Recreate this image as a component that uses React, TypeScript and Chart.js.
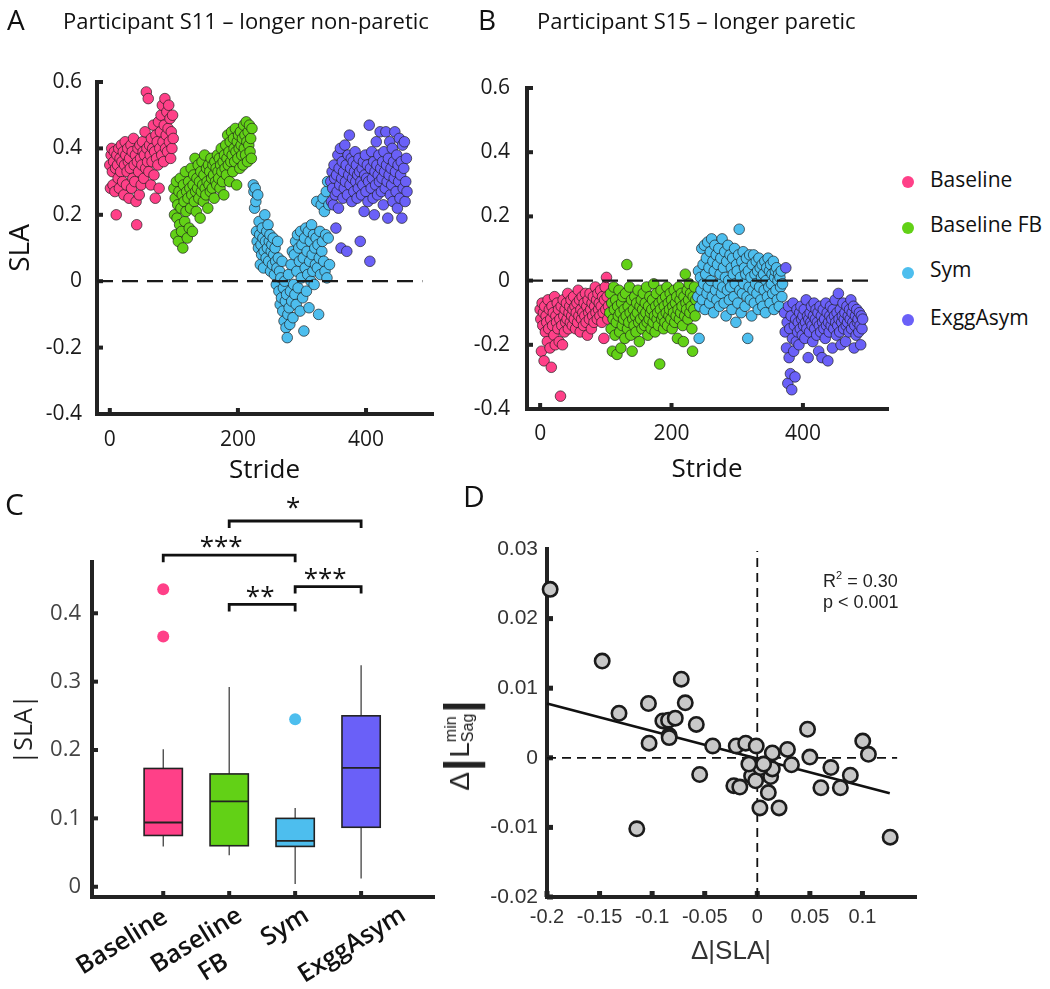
import React, { useEffect, useRef } from "react";
import { Chart, registerables } from "chart.js";

Chart.register(...registerables);

const FONT_UI = "'Open Sans', 'DejaVu Sans', sans-serif";
const FONT_ARIAL = "'Liberation Sans', Arial, sans-serif";

// ================= DATA =================
const phases = ["Baseline", "Baseline FB", "Sym", "ExggAsym"];
const phaseTickLabels = ["Baseline", "Baseline\nFB", "Sym", "ExggAsym"];
const phaseColors = ["#FF4088", "#62D116", "#4DBEEE", "#6A60F8"];

const strideTicks = [0, 200, 400];
const slaTicks = [-0.4, -0.2, 0, 0.2, 0.4, 0.6];

// Panel A: participant S11, SLA per stride (first stride of each phase + values)
const s11StartStride = [0, 100, 224, 345];
const s11Baseline = [
  0.35, 0.28, 0.38, 0.40, 0.33, 0.29, 0.36, 0.39, 0.27, 0.34,
  0.20, 0.38, 0.35, 0.31, 0.40, 0.28, 0.37, 0.33, 0.41, 0.36,
  0.30, 0.39, 0.26, 0.35, 0.42, 0.38, 0.29, 0.33, 0.40, 0.36,
  0.25, 0.37, 0.34, 0.41, 0.28, 0.39, 0.31, 0.43, 0.35, 0.30,
  0.38, 0.24, 0.17, 0.36, 0.40, 0.33, 0.26, 0.41, 0.37, 0.29,
  0.35, 0.42, 0.39, 0.31, 0.38, 0.45, 0.34, 0.57, 0.40, 0.36,
  0.55, 0.33, 0.41, 0.38, 0.29, 0.43, 0.36, 0.40, 0.47, 0.32,
  0.39, 0.25, 0.44, 0.37, 0.42, 0.35, 0.48, 0.28, 0.40, 0.45,
  0.50, 0.38, 0.53, 0.42, 0.36, 0.47, 0.55, 0.40, 0.44, 0.51,
  0.39, 0.46, 0.53, 0.42, 0.49, 0.37, 0.45, 0.40, 0.50, 0.43,
];
const s11BaselineFB = [
  0.28, 0.20, 0.25, 0.14, 0.30, 0.19, 0.23, 0.12, 0.27, 0.17,
  0.31, 0.22, 0.15, 0.26, 0.10, 0.29, 0.24, 0.18, 0.33, 0.21,
  0.27, 0.13, 0.25, 0.30, 0.16, 0.28, 0.22, 0.34, 0.26, 0.15,
  0.29, 0.32, 0.24, 0.37, 0.27, 0.21, 0.31, 0.28, 0.35, 0.25,
  0.30, 0.19, 0.33, 0.27, 0.36, 0.29, 0.24, 0.32, 0.38, 0.28,
  0.26, 0.34, 0.30, 0.22, 0.35, 0.29, 0.33, 0.27, 0.37, 0.31,
  0.28, 0.35, 0.32, 0.25, 0.36, 0.30, 0.34, 0.29, 0.38, 0.33,
  0.31, 0.37, 0.28, 0.35, 0.40, 0.33, 0.30, 0.36, 0.26, 0.38,
  0.34, 0.41, 0.32, 0.37, 0.44, 0.35, 0.39, 0.30, 0.42, 0.36,
  0.45, 0.38, 0.33, 0.43, 0.40, 0.36, 0.46, 0.39, 0.29, 0.42,
  0.37, 0.44, 0.40, 0.34, 0.45, 0.41, 0.38, 0.43, 0.35, 0.47,
  0.40, 0.44, 0.38, 0.48, 0.42, 0.36, 0.45, 0.41, 0.47, 0.39,
  0.43, 0.37, 0.46,
];
const s11Sym = [
  0.29, 0.27, 0.22, 0.28, 0.24, 0.15, 0.12, 0.26, 0.10, 0.18,
  0.14, 0.05, 0.11, 0.08, 0.16, 0.13, 0.04, 0.09, 0.20, 0.12,
  0.07, 0.15, 0.10, 0.17, 0.06, 0.12, 0.14, 0.03, 0.09, 0.11,
  0.05, 0.13, 0.08, 0.02, 0.10, 0.06, -0.01, 0.04, 0.12, 0.07,
  -0.03, 0.03, -0.07, 0.01, -0.05, 0.06, -0.09, -0.02, -0.12, 0.00,
  -0.06, -0.14, -0.04, -0.17, -0.10, 0.02, -0.08, -0.13, -0.03, 0.05,
  -0.06, 0.09, -0.11, -0.01, 0.08, -0.04, 0.12, -0.07, 0.03, 0.14,
  -0.02, 0.10, 0.06, -0.09, 0.15, 0.01, 0.11, -0.05, 0.07, -0.15,
  0.13, 0.04, 0.16, -0.03, 0.09, 0.02, 0.15, -0.08, 0.06, 0.12,
  0.00, 0.17, 0.08, 0.03, 0.14, -0.01, 0.10, 0.05, 0.13, 0.24,
  0.04, 0.11, -0.10, 0.07, 0.15, 0.02, 0.23, 0.09, 0.12, 0.25,
  0.06, 0.21, 0.03, 0.14, 0.27, 0.01, 0.30, 0.13, 0.23, 0.05,
];
const s11ExggAsym = [
  0.30, 0.24, 0.33, 0.28, 0.23, 0.35, 0.31, 0.26, 0.16, 0.32,
  0.27, 0.38, 0.22, 0.34, 0.29, 0.40, 0.10, 0.31, 0.36, 0.25,
  0.33, 0.28, 0.41, 0.30, 0.35, 0.09, 0.26, 0.38, 0.32, 0.44,
  0.29, 0.34, 0.37, 0.24, 0.31, 0.36, 0.27, 0.33, 0.39, 0.30,
  0.35, 0.25, 0.32, 0.28, 0.37, 0.33, 0.12, 0.30, 0.26, 0.34,
  0.29, 0.36, 0.21, 0.32, 0.38, 0.27, 0.31, 0.35, 0.24, 0.30,
  0.47, 0.06, 0.34, 0.28, 0.39, 0.31, 0.25, 0.36, 0.20, 0.33,
  0.29, 0.42, 0.35, 0.26, 0.32, 0.38, 0.30, 0.45, 0.34, 0.27,
  0.31, 0.36, 0.23, 0.39, 0.33, 0.28, 0.45, 0.35, 0.30, 0.19,
  0.37, 0.32, 0.42, 0.26, 0.34, 0.29, 0.40, 0.24, 0.36, 0.31,
  0.45, 0.33, 0.27, 0.38, 0.22, 0.35, 0.30, 0.43, 0.25, 0.32,
  0.36, 0.19, 0.41, 0.28, 0.34, 0.42, 0.24, 0.30, 0.37, 0.27,
];

// Panel B: participant S15
const s15StartStride = [0, 106, 240, 372];
const s15Baseline = [
  -0.09, -0.12, -0.22, -0.07, -0.14, -0.10, -0.25, -0.08, -0.16, -0.11,
  -0.13, -0.19, -0.06, -0.15, -0.09, -0.21, -0.12, -0.27, -0.08, -0.14,
  -0.10, -0.17, -0.05, -0.20, -0.11, -0.13, -0.07, -0.15, -0.09, -0.19,
  -0.12, -0.36, -0.08, -0.14, -0.20, -0.06, -0.11, -0.16, -0.09, -0.13,
  -0.07, -0.12, -0.04, -0.15, -0.10, -0.08, -0.13, -0.06, -0.11, -0.14,
  -0.09, -0.05, -0.12, -0.08, -0.15, -0.10, -0.07, -0.13, -0.03, -0.11,
  -0.06, -0.16, -0.09, -0.12, -0.05, -0.10, -0.14, -0.07, -0.11, -0.04,
  -0.13, -0.08, -0.17, -0.06, -0.10, -0.12, -0.04, -0.09, -0.15, -0.07,
  -0.11, -0.05, -0.13, -0.08, -0.02, -0.10, -0.06, -0.12, -0.04, -0.09,
  -0.07, -0.11, -0.03, -0.08, -0.13, -0.05, -0.10, -0.18, -0.06, -0.02,
  -0.09, 0.01, -0.05, -0.12, -0.08,
];
const s15BaselineFB = [
  -0.10, -0.04, -0.15, -0.07, -0.22, -0.12, -0.02, -0.09, -0.17, -0.06,
  -0.13, -0.23, -0.08, -0.11, -0.03, -0.16, -0.10, -0.21, -0.07, -0.14,
  -0.05, -0.12, -0.09, -0.18, -0.04, -0.11, 0.05, -0.15, -0.08, -0.13,
  -0.02, -0.10, -0.17, -0.06, -0.22, -0.12, -0.09, -0.14, -0.05, -0.11,
  -0.16, -0.07, -0.10, -0.03, -0.13, -0.19, -0.08, -0.12, -0.06, -0.15,
  -0.09, -0.04, -0.11, -0.14, -0.07, -0.10, -0.02, -0.13, -0.17, -0.08,
  -0.12, -0.05, -0.10, -0.15, -0.09, -0.06, -0.13, -0.01, -0.11, -0.16,
  -0.08, -0.04, -0.12, -0.10, -0.14, -0.07, -0.26, -0.09, -0.03, -0.12,
  -0.06, -0.11, -0.15, -0.08, -0.13, -0.05, -0.10, -0.02, -0.14, -0.07,
  -0.11, -0.09, -0.04, -0.12, -0.06, -0.15, -0.08, -0.10, -0.03, -0.13,
  -0.07, -0.11, -0.05, -0.18, -0.09, -0.02, -0.12, -0.06, -0.10, -0.04,
  -0.08, -0.14, -0.19, -0.05, -0.11, 0.02, -0.07, -0.09, -0.03, -0.12,
  -0.06, -0.01, -0.10, -0.04, -0.08, -0.15, -0.22, -0.05, -0.09, -0.02,
  -0.11, -0.06,
];
const s15Sym = [
  -0.05, 0.03, -0.18, -0.08, 0.01, -0.03, 0.10, -0.06, 0.05, -0.01,
  0.11, -0.09, 0.02, 0.07, -0.04, 0.12, -0.02, 0.04, -0.07, 0.09,
  0.00, 0.13, -0.05, 0.06, -0.10, 0.03, 0.11, -0.03, 0.08, -0.06,
  0.05, -0.01, 0.10, -0.08, 0.02, 0.07, -0.04, 0.13, -0.02, 0.04,
  -0.07, 0.09, 0.01, -0.11, 0.06, -0.03, 0.11, 0.00, -0.06, 0.08,
  -0.02, 0.04, -0.09, 0.07, 0.02, -0.05, 0.10, -0.01, -0.13, 0.05,
  0.03, -0.07, 0.08, 0.16, -0.03, 0.01, -0.10, 0.06, -0.04, 0.09,
  -0.01, 0.04, -0.08, 0.02, 0.07, -0.05, -0.18, 0.03, -0.02, 0.08,
  -0.06, 0.01, -0.11, 0.05, -0.03, 0.08, -0.07, 0.02, -0.01, 0.06,
  -0.04, 0.03, -0.09, 0.07, -0.02, 0.04, -0.06, 0.01, 0.05, -0.08,
  0.02, -0.03, 0.06, -0.10, 0.00, 0.04, -0.05, 0.07, -0.02, 0.03,
  -0.07, 0.05, -0.01, 0.02, -0.04, 0.06, -0.09, 0.01, 0.03, -0.03,
  0.04, -0.06, 0.00, 0.02, -0.08, 0.01, -0.02, 0.03, -0.05, -0.01,
];
const s15ExggAsym = [
  -0.10, -0.16, 0.04, -0.21, -0.13, -0.32, -0.08, -0.24, -0.15, -0.29,
  -0.11, -0.34, -0.18, -0.07, -0.22, -0.14, -0.30, -0.12, -0.19, -0.09,
  -0.16, -0.13, -0.20, -0.10, -0.15, -0.08, -0.12, -0.17, -0.11, -0.14,
  -0.09, -0.18, -0.13, -0.06, -0.15, -0.11, -0.24, -0.12, -0.16, -0.10,
  -0.13, -0.08, -0.14, -0.19, -0.11, -0.07, -0.15, -0.12, -0.09, -0.17,
  -0.13, -0.10, -0.22, -0.14, -0.08, -0.16, -0.11, -0.24, -0.13, -0.09,
  -0.15, -0.12, -0.18, -0.07, -0.14, -0.10, -0.25, -0.13, -0.16, -0.11,
  -0.08, -0.14, -0.12, -0.21, -0.09, -0.15, -0.11, -0.06, -0.13, -0.17,
  -0.10, -0.14, -0.04, -0.12, -0.16, -0.09, -0.20, -0.13, -0.11, -0.07,
  -0.15, -0.12, -0.10, -0.19, -0.14, -0.08, -0.13, -0.11, -0.16, -0.09,
  -0.12, -0.06, -0.15, -0.10, -0.13, -0.08, -0.21, -0.14, -0.11, -0.17,
  -0.09, -0.13, -0.12, -0.16, -0.10, -0.14, -0.20, -0.11, -0.15, -0.12,
];

// Panel C: |SLA| box plot statistics per phase
const absSlaTicks = [0, 0.1, 0.2, 0.3, 0.4];
const boxQ1 = [0.075, 0.060, 0.059, 0.087];
const boxMedian = [0.094, 0.125, 0.067, 0.174];
const boxQ3 = [0.173, 0.165, 0.100, 0.250];
const whiskerLow = [0.059, 0.046, 0.004, 0.012];
const whiskerHigh = [0.201, 0.292, 0.115, 0.324];
const outlierPhase = [0, 0, 2];
const outlierValue = [0.435, 0.366, 0.245];
const bracketFrom = [1, 0, 1, 2];
const bracketTo = [3, 2, 2, 3];
const bracketLevel = [0.535, 0.485, 0.413, 0.439];
const bracketLabel = ["*", "***", "**", "***"];

// Panel D: change in |SLA| vs change in min sagittal L
const dSlaX = [
  -0.197, -0.1475, -0.1315, -0.1035, -0.1029, -0.0723, -0.0685, -0.0898, -0.0844, -0.078,
  -0.0838, -0.0838, -0.058, -0.0424, -0.0548, -0.1146, -0.02, -0.011, -0.001, 0.0143,
  0.0287, 0.0325, 0.0478, 0.05, 0.07, 0.0605, 0.079, 0.0885, 0.1003, 0.1057,
  0.1264, -0.0223, -0.0166, -0.0064, -0.0054, -0.0016, 0.0025, 0.0105, 0.0127, 0.0143,
  0.0207, 0.003, 0.006, -0.008,
];
const dLSagY = [
  0.0242, 0.0139, 0.0064, 0.0078, 0.0021, 0.0113, 0.0079, 0.0053, 0.0054, 0.0057,
  0.0032, 0.0029, 0.0048, 0.0017, -0.0024, -0.0102, 0.0017, 0.0021, 0.0017, 0.0007,
  0.0012, -0.001, 0.0041, 0.0001, -0.0014, -0.0043, -0.0043, -0.0025, 0.0024, 0.0005,
  -0.0114, -0.004, -0.0042, -0.001, -0.0026, -0.0033, -0.0072, -0.005, -0.0027, -0.0016,
  -0.0072, -0.0014, -0.0009, -0.0009,
];
const fitX = [-0.2, 0.126];
const fitY = [0.0078, -0.0051];
const dXTicks = [-0.2, -0.15, -0.1, -0.05, 0, 0.05, 0.1];
const dYTicks = [-0.02, -0.01, 0, 0.01, 0.02, 0.03];

// ================= STYLE (presentation only) =================
const AXIS_COLOR = "#222";
const catLabelOffset = [[-41, 45], [-24, 57], [-10, 30], [-9, 48]];
const bracketLift = [19, 14, 13, 14];
const bracketDx = [-2, -8, -2, -3];
const BOX_HALF = 0.29;

const fmt = (v: number) => {
  const r = Math.round(v * 1e6) / 1e6;
  return r === 0 ? "0" : String(r);
};
const toPoints = (start: number, ys: number[]) => ys.map((y, i) => ({ x: start + i, y }));

// ================= PLUGINS =================
const axesPlugin = {
  id: "axesL",
  beforeDatasetsDraw(chart: any, _a: any, o: any) {
    const { ctx, chartArea: ca } = chart;
    const xs = chart.scales.x;
    const ys = chart.scales.y;
    ctx.save();
    ctx.strokeStyle = AXIS_COLOR;
    ctx.lineWidth = o.width || 4;
    ctx.lineJoin = "miter";
    ctx.lineCap = "square";
    ctx.beginPath();
    ctx.moveTo(ca.left, ca.top);
    ctx.lineTo(ca.left, ca.bottom);
    ctx.lineTo(ca.right, ca.bottom);
    ctx.stroke();
    ctx.fillStyle = AXIS_COLOR;
    const tl = o.tl || 6;
    const tw = o.tw || 4;
    (o.xTicks || []).forEach((v: number) => {
      const px = xs.getPixelForValue(v);
      ctx.fillRect(px - tw / 2, ca.bottom - tl, tw, tl);
    });
    (o.yTicks || []).forEach((v: number) => {
      const py = ys.getPixelForValue(v);
      ctx.fillRect(ca.left, py - tw / 2, tl, tw);
    });
    ctx.restore();
  },
};

const boxPlugin = {
  id: "boxes",
  beforeDatasetsDraw(chart: any) {
    const { ctx } = chart;
    const xs = chart.scales.x;
    const ys = chart.scales.y;
    ctx.save();
    boxQ1.forEach((q1, i) => {
      const xc = xs.getPixelForValue(i);
      const xl = xs.getPixelForValue(i - BOX_HALF);
      const xr = xs.getPixelForValue(i + BOX_HALF);
      const yq1 = ys.getPixelForValue(q1);
      const yq3 = ys.getPixelForValue(boxQ3[i]);
      const ymed = ys.getPixelForValue(boxMedian[i]);
      ctx.strokeStyle = "#333";
      ctx.lineWidth = 1.2;
      ctx.beginPath();
      ctx.moveTo(xc, ys.getPixelForValue(whiskerHigh[i]));
      ctx.lineTo(xc, yq3);
      ctx.moveTo(xc, yq1);
      ctx.lineTo(xc, ys.getPixelForValue(whiskerLow[i]));
      ctx.stroke();
      ctx.fillStyle = phaseColors[i];
      ctx.fillRect(xl, yq3, xr - xl, yq1 - yq3);
      ctx.strokeStyle = "#222";
      ctx.lineWidth = 1.6;
      ctx.strokeRect(xl, yq3, xr - xl, yq1 - yq3);
      ctx.lineWidth = 1.8;
      ctx.beginPath();
      ctx.moveTo(xl, ymed);
      ctx.lineTo(xr, ymed);
      ctx.stroke();
    });
    ctx.restore();
  },
  afterDraw(chart: any) {
    const { ctx, chartArea: ca } = chart;
    const xs = chart.scales.x;
    const ys = chart.scales.y;
    ctx.save();
    ctx.strokeStyle = "#111";
    ctx.lineWidth = 2.8;
    ctx.lineJoin = "miter";
    ctx.fillStyle = "#111";
    ctx.font = `26px ${FONT_UI}`;
    ctx.textAlign = "center";
    ctx.textBaseline = "alphabetic";
    bracketFrom.forEach((f, k) => {
      const x1 = xs.getPixelForValue(f);
      const x2 = xs.getPixelForValue(bracketTo[k]);
      const y = ys.getPixelForValue(bracketLevel[k]);
      ctx.beginPath();
      ctx.moveTo(x1, y + 7);
      ctx.lineTo(x1, y);
      ctx.lineTo(x2, y);
      ctx.lineTo(x2, y + 7);
      ctx.stroke();
      ctx.fillText(bracketLabel[k], (x1 + x2) / 2 + bracketDx[k], y - bracketLift[k] + 14);
    });
    ctx.font = `600 25px ${FONT_UI}`;
    ctx.textBaseline = "middle";
    phaseTickLabels.forEach((lab, i) => {
      const [dx, dy] = catLabelOffset[i];
      const cx = xs.getPixelForValue(i) + dx;
      const cy = ca.bottom + dy;
      ctx.save();
      ctx.translate(cx, cy);
      ctx.rotate((-32 * Math.PI) / 180);
      const lines = lab.split("\n");
      lines.forEach((ln, k) => ctx.fillText(ln, 0, (k - (lines.length - 1) / 2) * 32));
      ctx.restore();
    });
    ctx.restore();
  },
};

// ================= CONFIGS =================
function slaPanel(p: any) {
  return {
    type: "scatter",
    data: {
      datasets: [
        {
          data: [{ x: p.xMin, y: 0 }, { x: p.zeroTo, y: 0 }],
          showLine: true,
          borderColor: "#1a1a1a",
          borderWidth: 2.2,
          borderDash: [16, 9],
          pointRadius: 0,
          order: -1,
          clip: false,
        },
        ...p.groups.map((g: any, i: number) => ({
          label: phases[i],
          data: g,
          backgroundColor: phaseColors[i],
          borderColor: "rgba(30,30,30,0.85)",
          borderWidth: 0.8,
          pointRadius: 5.3,
          order: 10 - i,
          clip: false,
        })),
      ],
    },
    options: {
      responsive: false,
      animation: false,
      events: [],
      layout: { padding: { top: p.padTop, right: p.padRight, left: 0, bottom: 0 } },
      plugins: {
        legend: { display: false },
        tooltip: { enabled: false },
        axesL: { xTicks: strideTicks, yTicks: slaTicks, tl: 6, tw: 4 },
      },
      scales: {
        x: {
          type: "linear",
          min: p.xMin,
          max: p.xMax,
          afterBuildTicks: (s: any) => {
            s.ticks = strideTicks.map((v) => ({ value: v }));
          },
          afterFit: (s: any) => {
            s.height = p.xAxisH;
          },
          grid: { display: false, drawTicks: false },
          border: { display: false },
          ticks: {
            padding: p.xTickPad,
            autoSkip: false,
            maxRotation: 0,
            font: { family: FONT_UI, size: 21, lineHeight: 1 },
            color: "#1a1a1a",
            callback: (v: number) => fmt(v),
          },
          title: {
            display: true,
            text: "Stride",
            color: "#111",
            font: { family: FONT_UI, size: 26, lineHeight: 1 },
            padding: { top: 0, bottom: p.xTitlePad },
          },
        },
        y: {
          type: "linear",
          min: -0.4,
          max: 0.6,
          afterBuildTicks: (s: any) => {
            s.ticks = slaTicks.map((v) => ({ value: v }));
          },
          afterFit: (s: any) => {
            s.width = p.yAxisW;
          },
          grid: { display: false, drawTicks: false },
          border: { display: false },
          ticks: {
            padding: p.yTickPad,
            autoSkip: false,
            font: { family: FONT_UI, size: 21, lineHeight: 1 },
            color: "#1a1a1a",
            callback: (v: number) => fmt(v),
          },
          title: {
            display: !!p.yTitle,
            text: p.yTitle || "",
            color: "#111",
            font: { family: FONT_UI, size: 28, lineHeight: 1 },
            padding: { top: 7, bottom: 0 },
          },
        },
      },
    },
    plugins: [axesPlugin],
  };
}

function makeA() {
  return slaPanel({
    groups: [s11Baseline, s11BaselineFB, s11Sym, s11ExggAsym].map((g, i) => toPoints(s11StartStride[i], g)),
    xMin: -20,
    xMax: 503,
    zeroTo: 488,
    padTop: 82,
    padRight: 18,
    xAxisH: 76,
    yAxisW: 97,
    xTickPad: 16,
    yTickPad: 15,
    xTitlePad: 6,
    yTitle: "SLA",
  });
}

function makeB() {
  return slaPanel({
    groups: [s15Baseline, s15BaselineFB, s15Sym, s15ExggAsym].map((g, i) => toPoints(s15StartStride[i], g)),
    xMin: -20,
    xMax: 528,
    zeroTo: 512,
    padTop: 88,
    padRight: 13,
    xAxisH: 81,
    yAxisW: 77,
    xTickPad: 15,
    yTickPad: 17,
    xTitlePad: 7,
    yTitle: "",
  });
}

function makeC() {
  return {
    type: "scatter",
    data: {
      datasets: [
        {
          data: outlierPhase.map((g, k) => ({ x: g, y: outlierValue[k] })),
          backgroundColor: outlierPhase.map((g) => phaseColors[g]),
          borderWidth: 0,
          pointRadius: 6,
          clip: false,
        },
      ],
    },
    options: {
      responsive: false,
      animation: false,
      events: [],
      layout: { padding: { top: 72, right: 37, left: 0, bottom: 0 } },
      plugins: {
        legend: { display: false },
        tooltip: { enabled: false },
        axesL: { xTicks: [0, 1, 2, 3], yTicks: absSlaTicks, tl: 6, tw: 4 },
      },
      scales: {
        x: {
          type: "linear",
          min: -1.08,
          max: 4.09,
          afterBuildTicks: (s: any) => {
            s.ticks = phases.map((_, i) => ({ value: i }));
          },
          afterFit: (s: any) => {
            s.height = 92;
          },
          grid: { display: false, drawTicks: false },
          border: { display: false },
          ticks: { display: false },
        },
        y: {
          type: "linear",
          min: -0.015,
          max: 0.475,
          afterBuildTicks: (s: any) => {
            s.ticks = absSlaTicks.map((v) => ({ value: v }));
          },
          afterFit: (s: any) => {
            s.width = 92;
          },
          grid: { display: false, drawTicks: false },
          border: { display: false },
          ticks: {
            padding: 11,
            autoSkip: false,
            font: { family: FONT_UI, size: 22, lineHeight: 1 },
            color: "#444",
            callback: (v: number) => fmt(v),
          },
          title: {
            display: true,
            text: "|SLA|",
            color: "#222",
            font: { family: FONT_UI, size: 25, lineHeight: 1 },
            padding: { top: 12, bottom: 0 },
          },
        },
      },
    },
    plugins: [axesPlugin, boxPlugin],
  };
}

function makeD() {
  const dash = { borderColor: "#111", borderWidth: 1.8, borderDash: [9, 6], pointRadius: 0, showLine: true, clip: false };
  return {
    type: "scatter",
    data: {
      datasets: [
        {
          data: dSlaX.map((x, i) => ({ x, y: dLSagY[i] })),
          backgroundColor: "#C8C8C8",
          borderColor: "#1b1b1b",
          borderWidth: 2.6,
          pointRadius: 7.2,
          order: 0,
          clip: false,
        },
        {
          data: fitX.map((x, i) => ({ x, y: fitY[i] })),
          showLine: true,
          borderColor: "#111",
          borderWidth: 2.6,
          pointRadius: 0,
          order: 1,
          clip: false,
        },
        { ...dash, data: [{ x: -0.2, y: 0 }, { x: 0.133, y: 0 }], order: 2 },
        { ...dash, data: [{ x: 0, y: -0.02 }, { x: 0, y: 0.0297 }], order: 2 },
      ],
    },
    options: {
      responsive: false,
      animation: false,
      events: [],
      layout: { padding: { top: 59, right: 135, left: 0, bottom: 0 } },
      plugins: {
        legend: { display: false },
        tooltip: { enabled: false },
        axesL: { xTicks: dXTicks, yTicks: dYTicks.slice(0, 5), tl: 6, tw: 5 },
      },
      scales: {
        x: {
          type: "linear",
          min: -0.2,
          max: 0.15,
          afterBuildTicks: (s: any) => {
            s.ticks = dXTicks.map((v) => ({ value: v }));
          },
          afterFit: (s: any) => {
            s.height = 92;
          },
          grid: { display: false, drawTicks: false },
          border: { display: false },
          ticks: {
            padding: 10,
            autoSkip: false,
            maxRotation: 0,
            font: { family: FONT_ARIAL, size: 20, lineHeight: 1 },
            color: "#333",
            callback: (v: number) => fmt(v),
          },
          title: {
            display: true,
            text: "Δ|SLA|",
            color: "#333",
            font: { family: FONT_ARIAL, size: 26, lineHeight: 1 },
            padding: { top: 0, bottom: 24 },
          },
        },
        y: {
          type: "linear",
          min: -0.02,
          max: 0.03,
          afterBuildTicks: (s: any) => {
            s.ticks = dYTicks.map((v) => ({ value: v }));
          },
          afterFit: (s: any) => {
            s.width = 67;
          },
          grid: { display: false, drawTicks: false },
          border: { display: false },
          ticks: {
            padding: 9,
            autoSkip: false,
            font: { family: FONT_ARIAL, size: 21, lineHeight: 1 },
            color: "#333",
            callback: (v: number) => fmt(v),
          },
        },
      },
    },
    plugins: [axesPlugin],
  };
}

// ================= COMPONENTS =================
function ChartCanvas({ left, top, width, height, make }: any) {
  const ref = useRef<HTMLCanvasElement | null>(null);
  useEffect(() => {
    if (!ref.current) return;
    const chart = new Chart(ref.current, make());
    return () => chart.destroy();
  }, []);
  return (
    <div style={{ position: "absolute", left, top, width, height }}>
      <canvas ref={ref} width={width} height={height} style={{ width, height, display: "block" }} />
    </div>
  );
}

const ASC: Record<string, number> = { ui: 1.069, arial: 0.905 };
function Txt({ x, y, size, font = "ui", weight = 400, color = "#111", children }: any) {
  const fam = font === "ui" ? FONT_UI : FONT_ARIAL;
  return (
    <div
      style={{
        position: "absolute",
        left: x,
        top: y - ASC[font] * size,
        fontFamily: fam,
        fontSize: size,
        fontWeight: weight,
        color,
        lineHeight: "normal",
        whiteSpace: "nowrap",
      }}
    >
      {children}
    </div>
  );
}

const legendDotY = [182, 228, 273, 320];
const legendTextY = [187, 232, 277, 325];

export default function App() {
  return (
    <div style={{ position: "absolute", left: 0, top: 0, width: 1050, height: 989, background: "#fff", overflow: "hidden" }}>
      <ChartCanvas left={0} top={0} width={450} height={490} make={makeA} />
      <ChartCanvas left={450} top={0} width={450} height={490} make={makeB} />
      <ChartCanvas left={0} top={490} width={470} height={499} make={makeC} />
      <ChartCanvas left={480} top={490} width={570} height={499} make={makeD} />

      <Txt x={7} y={30} size={28}>A</Txt>
      <Txt x={63} y={28.5} size={22}>Participant S11 – longer non-paretic</Txt>
      <Txt x={478} y={30} size={28}>B</Txt>
      <Txt x={537} y={28.5} size={22}>Participant S15 – longer paretic</Txt>
      <Txt x={5} y={515} size={30}>C</Txt>
      <Txt x={463} y={507} size={30}>D</Txt>

      {phases.map((ph, i) => (
        <React.Fragment key={ph}>
          <div
            style={{
              position: "absolute",
              left: 908 - 6,
              top: legendDotY[i] - 6,
              width: 12,
              height: 12,
              borderRadius: 6,
              background: phaseColors[i],
            }}
          />
          <Txt x={930} y={legendTextY[i]} size={21}>{ph}</Txt>
        </React.Fragment>
      ))}

      <Txt x={823} y={587} size={18} font="arial" color="#222">
        R<span style={{ fontSize: 11, position: "relative", top: -8 }}>2</span> = 0.30
      </Txt>
      <Txt x={823} y={608} size={18} font="arial" color="#222">p &lt; 0.001</Txt>

      <div
        style={{
          position: "absolute",
          left: 460,
          top: 745,
          transform: "translate(-50%, -50%) rotate(-90deg)",
          whiteSpace: "nowrap",
          fontFamily: FONT_ARIAL,
          color: "#222",
          display: "flex",
          alignItems: "center",
          lineHeight: 1,
        }}
      >
        <span style={{ fontSize: 28 }}>Δ</span>
        <span style={{ fontSize: 44, fontWeight: 700, margin: "0 1px" }}>|</span>
        <span style={{ fontSize: 28 }}>L</span>
        <span style={{ display: "inline-flex", flexDirection: "column", fontSize: 16, lineHeight: 1.05 }}>
          <span>min</span>
          <span>Sag</span>
        </span>
        <span style={{ fontSize: 44, fontWeight: 700, margin: "0 1px" }}>|</span>
      </div>
    </div>
  );
}
